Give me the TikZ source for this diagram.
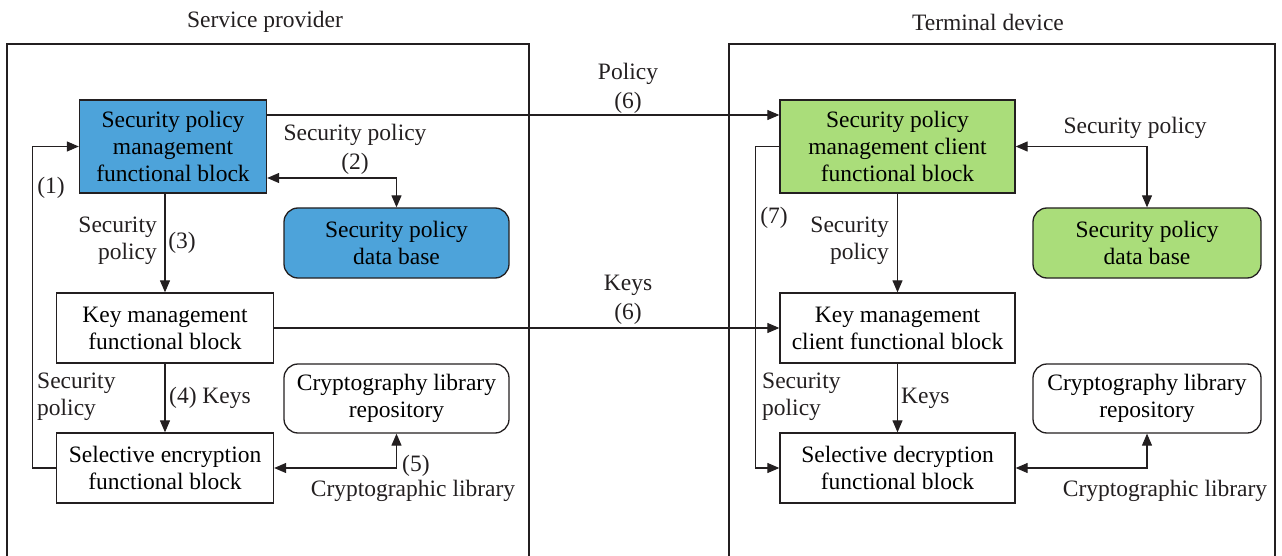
\documentclass[tikz,border=0pt]{standalone}
\usepackage{fontspec}
\setmainfont{Liberation Serif}
\usetikzlibrary{arrows.meta,calc}
\definecolor{bfill}{RGB}{77,163,218}
\definecolor{gfill}{RGB}{170,221,122}
\definecolor{ln}{RGB}{35,31,32}
\begin{document}
\begin{tikzpicture}[x=1pt,y=-1pt, font=\fontsize{23.5}{27}\selectfont,
 box/.style={draw=ln, line width=1.3pt, align=center, inner sep=0pt},
 rbox/.style={box, rounded corners=14pt},
 conn/.style={draw=ln, line width=1.1pt},
 arr/.style={conn, -{Triangle[length=12pt,width=10pt]}},
 darr/.style={conn, {Triangle[length=12pt,width=10pt]}-{Triangle[length=12pt,width=10pt]}},
 lbl/.style={inner sep=0pt, align=center, text=ln},
 wlbl/.style={lbl, font=\fontsize{23.5}{29}\selectfont}]
\useasboundingbox (0,0) rectangle (1282,556);
% containers
\draw[conn, line width=1.3pt] (7,560) -- (7,44) -- (529,44) -- (529,560);
\draw[conn, line width=1.3pt] (729,560) -- (729,44) -- (1275,44) -- (1275,560);
\node[lbl] (t1) at (265,22) {Service provider};
\node[lbl] (t2) at (988,22) {Terminal device};
% left blocks
\node[box, fill=bfill, minimum width=187pt, minimum height=93pt] (spm) at (173,146.5) {Security policy\\management\\functional block};
\node[rbox, fill=bfill, minimum width=225pt, minimum height=70pt] (dbl) at (396.5,243) {Security policy\\data base};
\node[box, minimum width=217pt, minimum height=70pt] (km) at (165,328) {Key management\\functional block};
\node[box, minimum width=217pt, minimum height=70pt] (se) at (165,468) {Selective encryption\\functional block};
\node[rbox, minimum width=225pt, minimum height=69pt] (crl) at (396.5,398.5) {Cryptography library\\repository};
% right blocks
\node[box, fill=gfill, minimum width=235pt, minimum height=93pt] (spmc) at (897.5,146.5) {Security policy\\management client\\functional block};
\node[rbox, fill=gfill, minimum width=228pt, minimum height=70pt] (dbr) at (1147,243) {Security policy\\data base};
\node[box, minimum width=235pt, minimum height=70pt] (kmc) at (897.5,328) {Key management\\client functional block};
\node[box, minimum width=235pt, minimum height=70pt] (sd) at (897.5,468) {Selective decryption\\functional block};
\node[rbox, minimum width=228pt, minimum height=69pt] (crr) at (1147,398.5) {Cryptography library\\repository};
% left connectors
\draw[arr] (se.west) -- ++(-23,0) |- (spm.west);
\draw[darr] ([yshift=-31.5pt]spm.east) -| (dbl.north);
\draw[arr] (spm.south -| km.north) -- (km.north);
\draw[arr] (km.south) -- (se.north);
\draw[darr] (se.east) -| (crl.south);
% cross connectors
\draw[arr] ([yshift=31.5pt]spm.east) -- ([yshift=31.5pt]spmc.west);
\draw[arr] (km.east) -- (kmc.west);
% right connectors
\draw[darr] (spmc.east) -| (dbr.north);
\draw[arr] (spmc.south) -- (kmc.north);
\draw[arr] (kmc.south) -- (sd.north);
\draw[arr] (spmc.west) -- ++(-23.5,0) |- (sd.west);
\draw[darr] (sd.east) -| (crr.south);
% labels left
\node[wlbl] (lp) at (628,88) {Policy\\(6)};
\node[wlbl] (lk) at (628,299.5) {Keys\\(6)};
\node[wlbl] (l2) at (355,149) {Security policy\\(2)};
\node[lbl] (l1) at (51,188) {(1)};
\node[lbl, align=right, anchor=east] (l3a) at (157,241) {Security\\policy};
\node[lbl] (l3) at (182,243) {(3)};
\node[lbl, align=left, anchor=west] (l1a) at (37,396.5) {Security\\policy};
\node[lbl, anchor=west] (l4) at (169,398) {(4) Keys};
\node[lbl, anchor=west] (l5) at (402,466) {(5)};
\node[lbl] (l5a) at (413,491) {Cryptographic library};
% labels right
\node[lbl] (r2) at (1135,128) {Security policy};
\node[lbl] (r7) at (774,218) {(7)};
\node[lbl, align=right, anchor=east] (r3) at (889,241) {Security\\policy};
\node[lbl, align=left, anchor=west] (r7a) at (762,396.5) {Security\\policy};
\node[lbl, anchor=west] (r4) at (901,398) {Keys};
\node[lbl] (r5) at (1165,491) {Cryptographic library};
\end{tikzpicture}
\end{document}
